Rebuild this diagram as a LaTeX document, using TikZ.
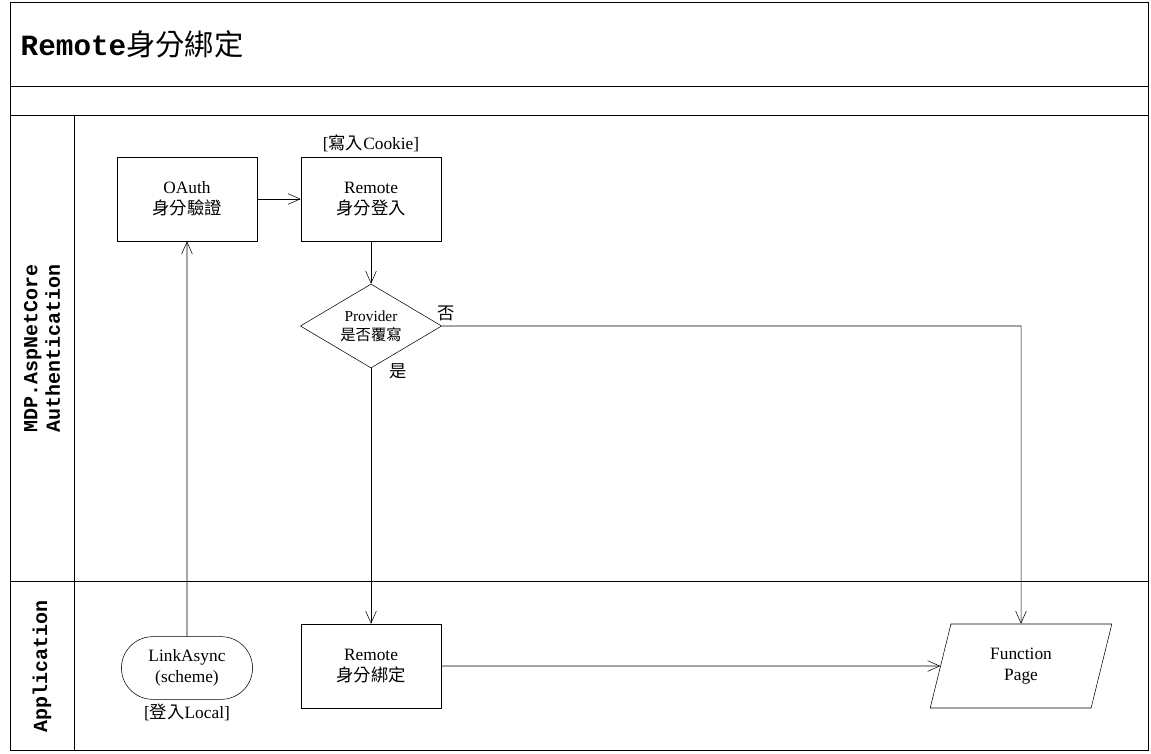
\documentclass[tikz,border=0pt]{standalone}
\usepackage{fontspec}
\setmainfont{Liberation Serif}
\newfontfamily\cjk{Noto Sans CJK TC}
\newfontfamily\monofont{Liberation Mono}
\usetikzlibrary{shapes.geometric, shapes.misc, arrows.meta, positioning}
\tikzset{
    box/.style={rectangle, draw, minimum width=105pt, minimum height=63pt, align=center, font=\fontsize{13}{16}\selectfont},
    choice/.style={diamond, draw, minimum width=106pt, minimum height=63pt, aspect=1.7, inner sep=0pt, align=center, font=\fontsize{11.5}{14}\selectfont},
    terminal/.style={rounded rectangle, draw, minimum width=105pt, minimum height=47pt, align=center, font=\fontsize{13}{16}\selectfont},
    io/.style={trapezium, trapezium left angle=76, trapezium right angle=104, trapezium stretches=true, draw, minimum width=137pt, minimum height=63pt, inner sep=0pt, align=center, font=\fontsize{13}{16}\selectfont},
    lane/.style={rotate=90, font=\monofont\bfseries\fontsize{15}{17}\selectfont, align=center},
    note/.style={font=\fontsize{13}{15}\selectfont},
    arrow/.style={-{Straight Barb[length=9pt,width=8pt]}}
}
\begin{document}
\begin{tikzpicture}[x=0.75pt, y=-0.75pt]
    \useasboundingbox (0,0) rectangle (1151,753);
    % frame and lanes
    \draw (10,2) rectangle (1148,750);
    \draw (10,86) -- (1148,86);
    \draw (10,115) -- (1148,115);
    \draw (10,581) -- (1148,581);
    \draw (74,115) -- (74,750);
    \node [anchor=west, font=\fontsize{22}{25}\selectfont] at (16,44) {{\monofont\bfseries Remote}{\cjk 身分綁定}};
    \node [lane] at (42,348) {MDP.AspNetCore\\Authentication};
    \node [lane] at (42,666) {Application};

    % nodes
    \node (oauth) [box] at (187,199) {OAuth\\{\cjk 身分驗證}};
    \node (login) [box] at (371,199) {Remote\\{\cjk 身分登入}};
    \node [note, above=0pt of login] {[{\cjk 寫入}Cookie]};
    \node (check) [choice] at (371,326) {Provider\\{\cjk 是否覆寫}};
    \node (link) [terminal] at (187,668) {LinkAsync\\(scheme)};
    \node [note, below=0pt of link] {[{\cjk 登入}Local]};
    \node (bind) [box] at (371,666) {Remote\\{\cjk 身分綁定}};
    \node (page) [io] at (1021,666) {Function\\Page};
    \coordinate (turn) at (1021,326);

    % connectors
    \draw [arrow] (link) -- (oauth);
    \draw [arrow] (oauth) -- (login);
    \draw [arrow] (login) -- (check);
    \draw [arrow] (check.east) -- (turn) -- (page.north);
    \draw [arrow] (check) -- (bind);
    \draw [arrow] (bind) -- (page);
    \node [note] at (446,313) {\cjk 否};
    \node [note] at (398,371) {\cjk 是};
\end{tikzpicture}
\end{document}
